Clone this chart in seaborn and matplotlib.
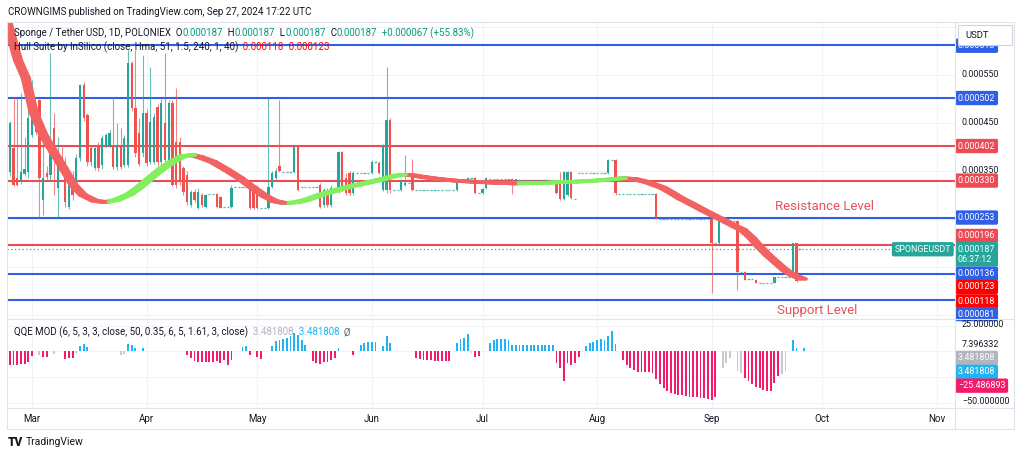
import matplotlib
matplotlib.use("Agg")
import matplotlib.pyplot as plt
from matplotlib.lines import Line2D
from matplotlib.patches import Rectangle
import pandas as pd
import seaborn as sns

# ---- data (prices in millionths of USDT: 550 -> 0.000550) ----
# one candle per day, day 0 = 1 Mar 2024
first_day = -6
opens = [
    348, 398, 335, 327, 344, 348, 425, 467, 498, 290,
    345, 342, 440, 315, 380, 369, 275, 340, 327, 377,
    529, 467, 398, 356, 404, 362, 404, 404, 404, 358,
    400, 362, 362, 575, 481, 430, 387, 471, 369, 369,
    483, 369, 450, 373, 492, 410, 410, 356, 342, 279,
    306, 273, 300, 275, 302, 302, 302, 296, 275, 275,
    275, 317, 317, 317, 317, 317, 310, 317, 273, 273,
    273, 317, 336, 360, 348, 348, 348, 348, 400, 317,
    317, 317, 317, 317, 321, 279, 310, 280, 315, 310,
    390, 336, 346, 304, 346, 346, 346, 346, 346, 369,
    367, 310, 310, 456, 310, 310, 310, 320, 325, 337,
    310, 310, 310, 310, 310, 310, 310, 310, 310, 310,
    310, 310, 331, 331, 331, 335, 335, 304, 304, 315,
    333, 333, 333, 333, 333, 333, 333, 325, 331, 331,
    331, 331, 331, 331, 331, 331, 331, 331, 331, 331,
    292, 300, 348, 292, 346, 346, 346, 346, 346, 346,
    346, 346, 346, 373, 373, 302, 302, 302, 302, 302,
    302, 302, 302, 302, 302, 302, 250, 250, 250, 250,
    250, 250, 250, 250, 250, 250, 250, 250, 250, 250,
    250, 200, 200, 246, 246, 246, 246, 246, 140, 140,
    126, 126, 123, 117, 117, 117, 117, 117, 129, 129,
    129, 129, 129, 200, 187,
]
highs = [
    455, 504, 502, 512, 420, 550, 540, 492, 500, 410,
    360, 596, 470, 420, 400, 380, 345, 350, 385, 532,
    535, 470, 405, 400, 410, 425, 430, 436, 504, 450,
    440, 425, 602, 580, 602, 460, 592, 480, 567, 470,
    490, 500, 596, 498, 498, 523, 420, 360, 350, 310,
    312, 315, 305, 302, 302, 302, 304, 298, 275, 275,
    320, 317, 317, 317, 317, 320, 315, 320, 273, 273,
    502, 350, 356, 498, 348, 348, 348, 402, 404, 317,
    317, 317, 317, 317, 325, 315, 315, 320, 315, 392,
    392, 346, 350, 350, 346, 346, 346, 346, 372, 369,
    370, 406, 567, 460, 310, 310, 333, 383, 325, 375,
    310, 310, 310, 310, 310, 310, 310, 310, 310, 310,
    310, 333, 331, 331, 338, 335, 337, 304, 315, 337,
    333, 333, 333, 333, 333, 333, 335, 334, 331, 331,
    331, 331, 331, 331, 331, 331, 331, 331, 333, 348,
    350, 350, 350, 292, 346, 346, 346, 346, 346, 346,
    346, 346, 375, 373, 375, 302, 302, 302, 302, 302,
    302, 302, 302, 302, 302, 304, 250, 250, 250, 250,
    250, 250, 250, 250, 250, 250, 250, 250, 250, 250,
    252, 200, 248, 246, 246, 246, 246, 248, 140, 141,
    126, 126, 124, 117, 117, 117, 117, 130, 129, 129,
    129, 129, 200, 200, 187,
]
lows = [
    340, 318, 318, 322, 340, 335, 420, 425, 254, 258,
    330, 330, 300, 254, 350, 275, 270, 290, 320, 370,
    455, 360, 360, 352, 350, 355, 400, 400, 355, 352,
    355, 358, 358, 475, 380, 360, 380, 360, 365, 365,
    360, 362, 368, 370, 318, 315, 320, 300, 280, 275,
    285, 270, 275, 272, 302, 302, 273, 272, 275, 275,
    272, 317, 317, 317, 317, 270, 270, 270, 273, 273,
    270, 315, 334, 348, 348, 348, 348, 345, 308, 317,
    317, 317, 317, 317, 272, 275, 275, 276, 315, 305,
    308, 300, 300, 300, 346, 346, 346, 346, 344, 369,
    344, 308, 305, 305, 310, 310, 308, 318, 325, 308,
    310, 310, 310, 310, 310, 310, 310, 310, 310, 310,
    310, 308, 331, 331, 329, 335, 302, 304, 302, 313,
    333, 333, 333, 333, 333, 333, 302, 324, 331, 331,
    331, 331, 331, 331, 331, 331, 331, 331, 302, 290,
    290, 298, 292, 292, 346, 346, 346, 346, 346, 346,
    346, 346, 344, 373, 300, 302, 302, 302, 302, 302,
    302, 302, 302, 302, 302, 250, 250, 250, 250, 250,
    250, 250, 250, 250, 250, 250, 250, 250, 250, 250,
    96, 200, 198, 246, 246, 246, 246, 102, 140, 122,
    126, 126, 116, 117, 117, 117, 117, 116, 129, 129,
    129, 129, 127, 118, 187,
]
closes = [
    450, 321, 321, 348, 354, 460, 502, 431, 335, 335,
    338, 404, 380, 390, 365, 285, 335, 300, 377, 529,
    460, 369, 369, 398, 356, 419, 425, 430, 358, 404,
    358, 419, 575, 481, 387, 365, 471, 367, 452, 462,
    369, 492, 373, 492, 321, 321, 327, 306, 285, 306,
    290, 306, 280, 300, 302, 302, 275, 273, 275, 275,
    315, 317, 317, 317, 317, 273, 273, 273, 273, 273,
    317, 346, 350, 350, 348, 348, 348, 400, 310, 317,
    317, 317, 317, 317, 275, 310, 280, 315, 315, 390,
    310, 304, 304, 346, 346, 346, 346, 346, 369, 369,
    346, 404, 456, 310, 310, 310, 331, 325, 325, 310,
    310, 310, 310, 310, 310, 310, 310, 310, 310, 310,
    310, 331, 331, 331, 335, 335, 304, 304, 313, 335,
    333, 333, 333, 333, 333, 333, 331, 333, 331, 331,
    331, 331, 331, 331, 331, 331, 331, 331, 304, 292,
    348, 348, 294, 292, 346, 346, 346, 346, 346, 346,
    346, 346, 373, 373, 304, 302, 302, 302, 302, 302,
    302, 302, 302, 302, 302, 252, 250, 250, 250, 250,
    250, 250, 250, 250, 250, 250, 250, 250, 250, 250,
    200, 200, 246, 246, 246, 246, 246, 140, 140, 123,
    126, 126, 117, 117, 117, 117, 117, 129, 129, 129,
    129, 129, 200, 120, 187,
]

# Hull Suite centre line, read along its path
hull_days = [-6.8, -5.7, -3.8, -1.7, 0.4, 3.1, 5.8, 8.5, 11.2, 13.8, 17, 19.8, 23, 26.5,
             29.2, 32, 34.7, 37.9, 40.9, 43.3, 45.5, 49, 52.8, 56.3, 59.8, 63, 65.8, 68.5,
             71.7, 74.4, 78, 80.7, 84.7, 88, 91.5, 95, 98.3, 100.4, 103, 106.4, 110.4,
             115.9, 121.3, 126.7, 130.8, 137.5, 144.3, 151, 157.3, 160, 163.2, 166.5,
             170.8, 173.3, 175.4, 178.7, 181.6, 184.9, 188.1, 190.3, 192.5, 194.9, 197,
             199.2, 201.7, 203.8, 206, 208.7]
hull_vals = [665, 633, 581, 544, 473, 425, 390, 356, 321, 300, 288, 285, 290, 302,
             317, 335, 352, 369, 381, 383, 379, 369, 352, 335, 315, 298, 287, 283,
             285, 290, 300, 306, 315, 321, 327, 333, 340, 342, 341, 337, 333,
             329, 327, 325, 324, 325, 327, 329, 333, 335, 333, 327,
             315, 304, 294, 281, 269, 256, 244, 235, 227, 210, 192,
             175, 158, 144, 133, 125]

# horizontal levels drawn by the author
blue_levels = [613, 502, 253, 136, 81]
red_levels = [402, 330, 196]
last_price = 187
hull_last = [118, 123]
plain_ticks = [550, 450, 350]

# QQE MOD histogram: p = pink (down), b = blue (up), g = grey (neutral)
qqe_days = [-6, -5, -4, -3, -2, -1, 0, 2, 3, 4, 6, 9, 10, 11, 12, 13, 14, 15,
            24, 25, 26, 27, 28, 30,
            42, 43, 44, 45, 46, 47, 48, 49, 50, 51, 52, 53, 54, 57, 58, 59, 61, 62,
            65, 66, 67, 68, 69, 70, 71, 72, 73, 74,
            76, 77, 78, 79, 80, 81, 82, 83, 87,
            89, 90, 91, 92, 93, 95, 96, 97,
            104, 105, 106, 107, 108, 109, 110, 111, 112, 113,
            115, 116, 117, 118, 119, 120, 121,
            124, 125, 126, 127, 128, 129, 130, 131, 132, 133, 134, 135, 136, 137, 138, 139,
            140, 141, 142, 143, 144, 145, 146, 147, 148,
            150, 151, 152, 153, 154, 155, 156, 157, 158,
            160, 161, 162, 163, 164, 165, 166, 167, 168, 169, 170, 171, 172, 173, 174, 175,
            176, 177, 178, 179, 180, 181, 182, 183, 184, 185,
            187, 188, 189, 191, 192, 193, 194, 195, 196, 197, 198, 199, 200, 201, 202, 203,
            204, 206, 207, 209]
qqe_vals = [-13, -13, -13, -12, -12, -10, -4, -3, -5, -5, -2, -7, -6, -6, -1, 5, 7, 4,
            -3, -2, 7, 6, 3, 3,
            -3, -6, -9, -10, -10, -10, -10, -10, -9, -11, -8, -13, -8, 4, 5, -3, -5, -7,
            5, 10, 11, 12, 13, 15, 18, 16, 11, 6,
            -9, -11, -12, -10, -10, -8, -6, 3, -3,
            6, 8, 9, 9, 9, 5, 15, 8,
            -6, -7, -8, -8, -8, -9, -9, -9, -9, -9,
            8, 12, 13, 17, -1, -5, -4,
            8, 11, 12, 12, 12, 11, 6, 6, 6, 6, 6, 6, 6, 6, 6, 6,
            6, 6, -11, -16, -29, -11, -13, -11, -5,
            5, 8, 9, 11, 12, 11, 15, 20, 7,
            -8, -13, -16, -18, -19.5, -19.5, -20, -20, -21, -27, -32, -36, -38, -40, -41, -42,
            -42, -43, -44, -44, -44.6, -45, -45, -46, -47, -44,
            -16, -11, -6, -19, -21, -26, -29, -32, -35, -36, -37, -38, -38, -31, -24, -22,
            -19, 11, 3, 3]
qqe_cols = list("pppppppgppgpppgbbb" "ggbbbb"
                "pppppppppppppbbppp" "bbbbbbbbbb"
                "pppppppbp" "bbbbbbbb" "pppppppppp" "bbbbgpp"
                "bbbbbbbbbbbbbbbb" "bbppppppp" "bbbbbbbbb"
                "pppppppppppppppp" "pppppppppp"
                "ggggg" "pppppppppp" "gg" "bbb")
qqe_labels = [25.0, 7.396332, 3.481808, 3.481808, -25.486893, -50.0]

months = ["Mar", "Apr", "May", "Jun", "Jul", "Aug", "Sep", "Oct", "Nov"]
month_days = [0, 31, 61, 92, 122, 153, 184, 214, 245]

# ---- style ----
TEAL = "#26a69a"
CRED = "#ef5350"
LBLUE = "#2f5fe6"
LRED = "#ec4b55"
HULL_DN = "#f36262"
HULL_UP = "#82ef5e"
QQE_C = {"p": "#f41a6c", "b": "#22b4f2", "g": "#c9cbd0"}
INK = "#131722"
BORDER = "#e0e3eb"
GRID = "#f0f3fa"

sns.set_theme(style="white")
plt.rcParams["font.family"] = ["Roboto", "DejaVu Sans"]

W, H = 1024, 458
fig = plt.figure(figsize=(W / 100, H / 100), dpi=100)
fig.patch.set_facecolor("white")


def rect(x0, y0, x1, y1):
    return [x0 / W, 1 - y1 / H, (x1 - x0) / W, (y1 - y0) / H]


ax = fig.add_axes(rect(7, 23, 955, 318))
axq = fig.add_axes(rect(7, 319, 955, 408), sharex=ax)
ax.set_xlim(-6.77, 249.9)
ax.set_ylim(43.75, 658.3)
axq.set_ylim(-55.0, 31.6)

for a in (ax, axq):
    for s in a.spines.values():
        s.set_visible(False)
    a.set_xticks(month_days)
    a.tick_params(length=0, labelleft=False)
    a.grid(True, color=GRID, lw=0.8)
    a.set_axisbelow(True)
ax.set_yticks(range(50, 700, 100))
ax.tick_params(labelbottom=False)
axq.set_yticks([25, 0, -25, -50])
axq.set_xticklabels(months, fontsize=7, color=INK)
axq.tick_params(axis="x", pad=4)

# ---- candles ----
days = list(range(first_day, first_day + len(opens)))
df = pd.DataFrame({"day": days, "o": opens, "h": highs, "l": lows, "c": closes})
flat = (df.o == df.c) & (df.h == df.l)
act = df[~flat]
up = act.c >= act.o
colors = [TEAL if u else CRED for u in up]
ax.vlines(act.day, act.l, act.h, colors=colors, lw=0.8, alpha=0.7, zorder=3)
body = (act.c - act.o).abs().clip(lower=1.5)
ax.bar(act.day, body, bottom=act[["o", "c"]].min(axis=1), width=0.62,
       color=colors, zorder=4, linewidth=0)
fl = df[flat]
ax.hlines(fl.c, fl.day - 0.3, fl.day + 0.3, colors=TEAL, lw=0.9, alpha=0.8, zorder=3)

# ---- levels ----
for v in blue_levels:
    ax.axhline(v, color=LBLUE, lw=1.5, zorder=2)
for v in red_levels:
    ax.axhline(v, color=LRED, lw=1.5, zorder=2)
ax.axhline(last_price, color=TEAL, lw=0.9, ls=(0, (1, 2)), zorder=2)

# ---- hull suite band (hull and its 2-bar lag, drawn as one ribbon) ----
rows = []
for i in range(len(hull_days) - 1):
    trend = "down" if hull_vals[i + 1] < hull_vals[i] else "up"
    rows.append((hull_days[i], hull_vals[i], i, trend))
    rows.append((hull_days[i + 1], hull_vals[i + 1], i, trend))
hull = pd.DataFrame(rows, columns=["day", "hull", "seg", "trend"])
for lag in (-0.9, -0.45, 0.0, 0.45, 0.9):
    shifted = hull.assign(day=hull.day + lag)
    sns.lineplot(data=shifted, x="day", y="hull", hue="trend", units="seg", estimator=None,
                 palette={"down": HULL_DN, "up": HULL_UP}, linewidth=2.5, sort=False,
                 legend=False, ax=ax, zorder=5, solid_capstyle="round")
ax.set_xlabel("")
ax.set_ylabel("")

ax.text(214.7, 277, "Resistance Level", color="#e5525c", fontsize=9.5,
        ha="center", va="center", zorder=6)
ax.text(212.6, 60.4, "Support Level", color="#e5525c", fontsize=9.5,
        ha="center", va="center", zorder=6)

# ---- QQE histogram ----
axq.bar(qqe_days, qqe_vals, width=0.5, color=[QQE_C[c] for c in qqe_cols],
        linewidth=0, zorder=3)
axq.set_xlabel("")
axq.set_ylabel("")


# ---- price scale labels ----
def tag(a, val, text, fc, dy=0, tc="white", dx=3, ha="left"):
    a.annotate(text, xy=(1, val), xycoords=("axes fraction", "data"),
               xytext=(dx, dy), textcoords="offset pixels", ha=ha, va="center",
               fontsize=6.4, color=tc, annotation_clip=False, zorder=8,
               bbox=dict(boxstyle="round,pad=0.3,rounding_size=0.2", fc=fc, ec="none")
               if fc else None)


for v in plain_ticks:
    tag(ax, v, f"{v / 1e6:.6f}", None, tc=INK, dx=7)
tag(ax, blue_levels[0], f"{blue_levels[0] / 1e6:.6f}", LBLUE, dy=-1)
tag(ax, blue_levels[1], f"{blue_levels[1] / 1e6:.6f}", LBLUE)
tag(ax, red_levels[0], f"{red_levels[0] / 1e6:.6f}", LRED)
tag(ax, red_levels[1], f"{red_levels[1] / 1e6:.6f}", LRED)
tag(ax, blue_levels[2], f"{blue_levels[2] / 1e6:.6f}", LBLUE)
tag(ax, red_levels[2], f"{red_levels[2] / 1e6:.6f}", LRED, dy=9)
tag(ax, last_price, f"{last_price / 1e6:.6f}\n06:37:12", TEAL, dy=-5)
tag(ax, blue_levels[3], f"{blue_levels[3] / 1e6:.6f}", LBLUE)
tag(ax, hull_last[1], f"{hull_last[1] / 1e6:.6f}", "#ff0000", dy=-7)
tag(ax, hull_last[0], f"{hull_last[0] / 1e6:.6f}", "#ff0000", dy=-19)
tag(ax, blue_levels[4], f"{blue_levels[4] / 1e6:.6f}", LBLUE, dy=-14)
tag(ax, last_price, "SPONGEUSDT", TEAL, dx=-4, ha="right")

q_dy = [1, -1, -10, -24, -8, 1]
q_fc = [None, None, "#b2b5be", "#22b4f2", "#f41a6c", None]
for v, dy, fc in zip(qqe_labels, q_dy, q_fc):
    tag(axq, v, f"{v:.6f}".replace("-", "\u2212"), fc, dy=dy,
        tc="white" if fc else INK, dx=3 if fc else 7)

# ---- frame ----
for (x0, y0, x1, y1) in [(7, 22, 1014, 22), (7, 429, 1014, 429), (7, 22, 7, 429),
                         (1014, 22, 1014, 429), (955, 22, 955, 429),
                         (7, 318.5, 1014, 318.5), (7, 408, 1014, 408)]:
    fig.add_artist(Line2D([x0 / W, x1 / W], [1 - y0 / H, 1 - y1 / H], color=BORDER,
                          lw=0.8, transform=fig.transFigure))
fig.add_artist(Rectangle((958 / W, 1 - 45 / H), 54 / W, 20 / H, transform=fig.transFigure,
                         fc="white", ec="#d1d4dc", lw=0.8, zorder=10))
fig.text(965 / W, 1 - 35 / H, "USDT", fontsize=6.8, color=INK, va="center", zorder=11)


# ---- texts ----
def chain(a, parts, x, y, size):
    prev = None
    fy = 1 - y / H
    for s, col in parts:
        if prev is None:
            prev = a.annotate(s, xy=(x / W, fy), xycoords="figure fraction",
                              fontsize=size, color=col, va="center", ha="left", zorder=9)
        else:
            prev = a.annotate(s, xy=(1, fy), xycoords=(prev, "figure fraction"),
                              fontsize=size, color=col, va="center", ha="left", zorder=9)


fig.text(8 / W, 1 - 12 / H, "CROWNGIMS published on TradingView.com, Sep 27, 2024 17:22 UTC",
         fontsize=7, color=INK, va="center")
up_c = "#089981"
chain(ax, [("Sponge / Tether USD, 1D, POLONIEX", INK), ("  O", INK), ("0.000187", up_c),
           ("  H", INK), ("0.000187", up_c), ("  L", INK), ("0.000187", up_c),
           ("  C", INK), ("0.000187", up_c), ("  +0.000067 (+55.83%)", up_c)], 14, 33, 7)
chain(ax, [("Hull Suite by InSilico (close, Hma, 51, 1.5, 240, 1, 40)", INK),
           ("  0.000118", "#ff0000"), ("  0.000123", "#ff0000")], 14, 47, 7)
chain(axq, [("QQE MOD (6, 5, 3, 3, close, 50, 0.35, 6, 5, 1.61, 3, close)", INK),
            ("  3.481808", "#b2b5be"), ("  3.481808", "#22b4f2"), ("  \u00d8", "#5d606b")],
      14, 332, 7)

fig.text(8 / W, 1 - 442 / H, "TV", fontsize=8.5, fontweight="heavy", color=INK, va="center")
fig.text(26 / W, 1 - 442 / H, "TradingView", fontsize=7.5, color=INK, va="center")

fig.savefig("out.png", dpi=100, facecolor="white")
